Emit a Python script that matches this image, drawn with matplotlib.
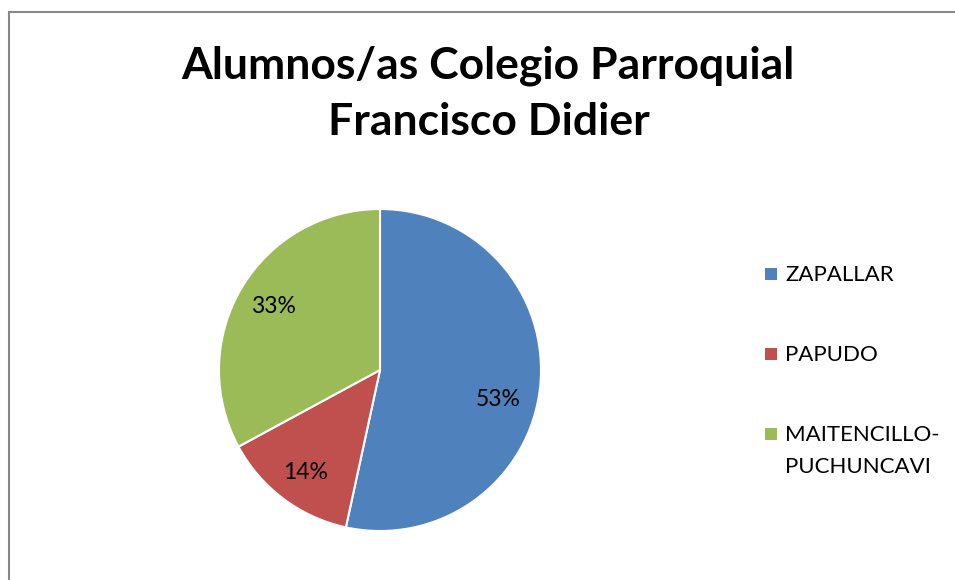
import matplotlib
matplotlib.use('Agg')
import matplotlib.pyplot as plt
from matplotlib.patches import Rectangle

TITLE_LINES = ['Alumnos/as Colegio Parroquial', 'Francisco Didier']
LABELS = ['ZAPALLAR', 'PAPUDO', 'MAITENCILLO-\nPUCHUNCAVI']
VALUES = [53.4, 13.7, 32.9]  # shares
COLORS = ['#4F81BD', '#C0504D', '#9BBB59']

W, H = 955, 580
plt.rcParams['font.family'] = ['Lato', 'DejaVu Sans']

fig = plt.figure(figsize=(W / 100, H / 100), dpi=100)


def px(x, y):
    # image pixel coords (top-left origin) -> figure fraction
    return x / W, 1 - y / H


# chart border, running off the right and bottom edges
fig.patches.append(Rectangle(px(9, 592), 960 / W, 580 / H, transform=fig.transFigure,
                             fill=False, edgecolor='#878787', linewidth=1.5))

# pie
cx, cy, r = 380, 370, 161
ax = fig.add_axes([(cx - r) / W, (H - cy - r) / H, 2 * r / W, 2 * r / H])
wedges, texts, autotexts = ax.pie(
    VALUES, colors=COLORS, startangle=90, counterclock=False,
    autopct='%.0f%%', pctdistance=0.77,
    wedgeprops={'edgecolor': 'white', 'linewidth': 1.5},
    textprops={'fontsize': 16.5, 'color': 'black'})
x0, y0 = autotexts[0].get_position()
autotexts[0].set_position((x0 - 0.03, y0 - 0.1))
x2, y2 = autotexts[1].get_position()
autotexts[1].set_position((x2 - 0.0, y2 - 0.02))
ax.set_xlim(-1, 1)
ax.set_ylim(-1, 1)
ax.set_aspect('equal')
ax.axis('off')

# title
fig.text(*px(488, 79), TITLE_LINES[0], ha='center', va='baseline', fontsize=32,
         fontweight='bold')
fig.text(*px(489, 135), TITLE_LINES[1], ha='center', va='baseline', fontsize=32,
         fontweight='bold')

# legend
base = 281
for lab, col in zip(LABELS, COLORS):
    fig.patches.append(Rectangle(px(765, base - 1), 12 / W, 12 / H, transform=fig.transFigure,
                                 facecolor=col, edgecolor='none'))
    for i, line in enumerate(lab.split('\n')):
        fig.text(*px(785, base + 32 * i), line, ha='left', va='baseline', fontsize=16)
    base += 80

fig.savefig('out.png', dpi=100, facecolor='white')
